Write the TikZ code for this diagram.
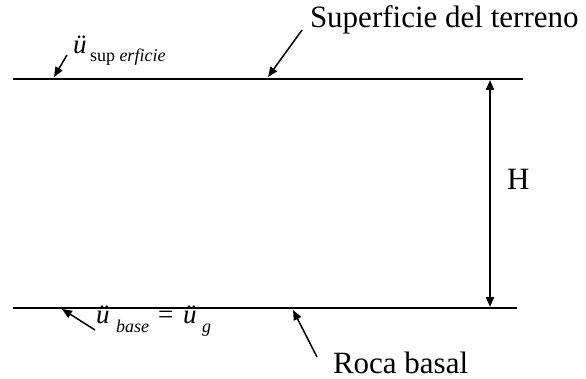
\documentclass[tikz,border=0pt]{standalone}
\usepackage{fontspec}
\setmainfont{Liberation Serif}
\usetikzlibrary{arrows.meta}
\begin{document}
\begin{tikzpicture}[x=1pt,y=-1pt,
  lbl/.style={inner sep=0pt,outer sep=0pt,anchor=base west,font=\fontsize{31}{31}\selectfont},
  mth/.style={inner sep=0pt,outer sep=0pt,anchor=base west,font=\fontsize{27}{27}\selectfont\itshape},
  sub/.style={inner sep=0pt,outer sep=0pt,anchor=base west,font=\fontsize{18}{18}\selectfont},
  layer/.style={line width=2pt},
  arr/.style={line width=1.5pt,-{Triangle[length=10pt,width=8pt]}},
  dim/.style={line width=2pt,{Triangle[length=10pt,width=8pt]}-{Triangle[length=10pt,width=8pt]}}]
\useasboundingbox (0,0) rectangle (586,379);
% layers
\coordinate (tl) at (13,79);
\coordinate (tr) at (523,79);
\coordinate (bl) at (13,308);
\coordinate (br) at (517,308);
\draw[layer] (tl) -- (tr);
\draw[layer] (bl) -- (br);
% height
\coordinate (htop) at (490,80);
\coordinate (hbot) at (490,307);
\draw[dim] (htop) -- (hbot);
\node[lbl] (H) at (507,190) {H};
% labels
\node[lbl] (sup) at (310,28) {Superficie del terreno};
\coordinate (supA) at (302,30);
\coordinate (supB) at (268,77);
\draw[arr] (supA) -- (supB);
\node[lbl] (roca) at (333,373) {Roca basal};
\coordinate (rocaA) at (317,357);
\coordinate (rocaB) at (293,310);
\draw[arr] (rocaA) -- (rocaB);
% accelerations
\node[mth] (u1) at (73,54) {ü};
\node[sub] (s1) at (90,62) {sup \textit{erficie}};
\coordinate (u1A) at (67,55);
\coordinate (u1B) at (54,77);
\draw[arr] (u1A) -- (u1B);
\node[mth] (u2) at (96,323) {ü};
\node[sub] (s2) at (116,332) {\textit{base}};
\node[mth,font=\fontsize{27}{27}\selectfont] (eq) at (158,323) {=};
\node[mth] (u3) at (183,323) {ü};
\node[sub] (s3) at (202,332) {\textit{g}};
\coordinate (u2A) at (95,330);
\coordinate (u2B) at (62,309);
\draw[arr] (u2A) -- (u2B);
\end{tikzpicture}
\end{document}
